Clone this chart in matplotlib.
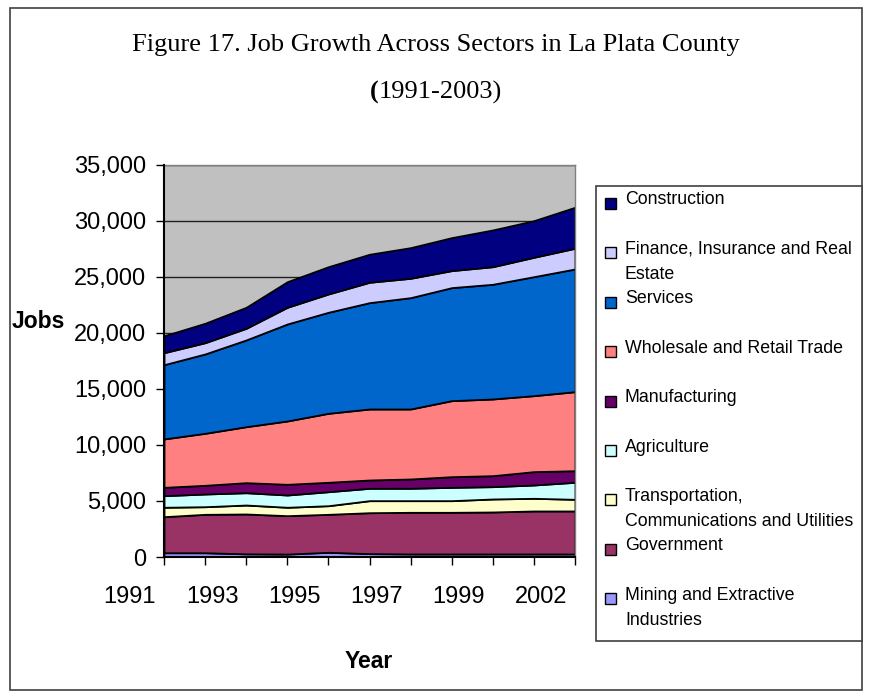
import numpy as np
import matplotlib.pyplot as plt
from matplotlib.patches import Rectangle

# categorias (anios) del eje x
years = ['1991', '1992', '1993', '1994', '1995', '1996', '1997', '1998',
         '1999', '2000', '2002']
tick_years = ['1991', '1993', '1995', '1997', '1999', '2002']

# empleos por sector (de abajo hacia arriba en la pila)
mining = [380, 380, 280, 260, 420, 300, 270, 270, 270, 270, 270]
government = [3220, 3430, 3560, 3430, 3390, 3655, 3720, 3720, 3750, 3840, 3840]
transportation = [840, 680, 800, 750, 770, 1075, 1040, 1040, 1160, 1130, 1040]
agriculture = [1035, 1135, 1100, 1095, 1250, 1105, 1105, 1190, 1100, 1190, 1520]
manufacturing = [745, 775, 895, 955, 840, 740, 830, 950, 980, 1190, 1035]
wholesale = [4320, 4645, 5000, 5655, 6160, 6340, 6250, 6790, 6850, 6785, 7055]
services = [6630, 7085, 7745, 8660, 9020, 9495, 9940, 10090, 10240, 10625, 10955]
finance = [1070, 1005, 1040, 1490, 1635, 1820, 1730, 1520, 1570, 1730, 1850]
construction = [1510, 1735, 1875, 2285, 2435, 2500, 2735, 2945, 3280, 3270, 3660]

labels = ['Mining and Extractive\nIndustries', 'Government',
          'Transportation,\nCommunications and Utilities', 'Agriculture',
          'Manufacturing', 'Wholesale and Retail Trade', 'Services',
          'Finance, Insurance and Real\nEstate', 'Construction']
colors = ['#9999FF', '#993366', '#FFFFCC', '#CCFFFF', '#660066',
          '#FF8080', '#0066CC', '#CCCCFF', '#000080']
series = [mining, government, transportation, agriculture, manufacturing,
          wholesale, services, finance, construction]

W, H = 873, 698
fig = plt.figure(figsize=(W / 100, H / 100), dpi=100)
sans = 'Liberation Sans'
serif = 'Liberation Serif'

# marco exterior
fig.patches.append(Rectangle((10 / W, 1 - 690 / H), 852 / W, 682 / H,
                             transform=fig.transFigure, fill=False,
                             edgecolor='#404040', linewidth=1.2))

x0, x1, y0, y1 = 164, 575, 165, 557
ax = fig.add_axes([x0 / W, 1 - y1 / H, (x1 - x0) / W, (y1 - y0) / H])
ax.set_facecolor('#C0C0C0')

x = np.arange(len(years))
ax.stackplot(x, *series, colors=colors, edgecolor='black', linewidth=1.3,
             zorder=2)

ax.set_ylim(0, 35000)
ax.set_yticks(np.arange(0, 35001, 5000))
ax.set_yticklabels([f'{v:,}' for v in range(0, 35001, 5000)],
                   fontfamily=sans, fontsize=17)
ax.yaxis.grid(True, color='#202020', linewidth=1.0, zorder=0)
ax.set_axisbelow(True)

# marcas del eje x en cada categoria, etiquetas cada dos
ax.set_xticks(x)
ax.set_xticklabels([''] * len(x))
ax.set_xlim(0, len(years) - 1)
for pos, lab in zip(x[::2], tick_years):
    ax.text(pos - 0.83, -40 / (y1 - y0), lab, transform=ax.get_xaxis_transform(),
            fontfamily=sans, fontsize=17, ha='center', va='center',
            clip_on=False)
ax.tick_params(axis='x', length=6, width=1, direction='out')
ax.tick_params(axis='y', length=6, width=1, pad=7)

for s in ['top', 'right']:
    ax.spines[s].set_color('#808080')
    ax.spines[s].set_linewidth(1)
for s in ['left', 'bottom']:
    ax.spines[s].set_color('black')
    ax.spines[s].set_linewidth(1.5)
ax.spines['bottom'].set_zorder(5)
ax.spines['left'].set_zorder(5)

# titulos de ejes
fig.text(38 / W, 1 - 322 / H, 'Jobs', fontfamily=sans, fontsize=16.5,
         fontweight='bold', ha='center', va='center')
fig.text(369 / W, 1 - 662 / H, 'Year', fontfamily=sans, fontsize=16.5,
         fontweight='bold', ha='center', va='center')

# titulo
fig.text(436 / W, 1 - 45 / H,
         'Figure 17. Job Growth Across Sectors in La Plata County',
         fontfamily=serif, fontsize=19, ha='center', va='center')
fig.canvas.draw()
r = fig.canvas.get_renderer()
t_par = fig.text(0, 1 - 92 / H, '(', fontfamily=serif, fontsize=19,
                 fontweight='bold', va='center')
t_rest = fig.text(0, 1 - 92 / H, '1991-2003)', fontfamily=serif,
                  fontsize=19, va='center')
w_par = t_par.get_window_extent(r).width
w_rest = t_rest.get_window_extent(r).width
left = 436 - (w_par + w_rest) / 2
t_par.set_x(left / W)
t_rest.set_x((left + w_par) / W)

# leyenda
fig.patches.append(Rectangle((596 / W, 1 - 641 / H), 266 / W, 455 / H,
                             transform=fig.transFigure, facecolor='white',
                             edgecolor='#404040', linewidth=1.2, zorder=3))
ly = 200
for lab, col in zip(labels[::-1], colors[::-1]):
    fig.patches.append(Rectangle((605 / W, 1 - (ly + 9) / H), 11 / W, 11 / H,
                                 transform=fig.transFigure, facecolor=col,
                                 edgecolor='black', linewidth=1, zorder=4))
    for k, line in enumerate(lab.split('\n')):
        fig.text(625 / W, 1 - (ly + 25 * k) / H, line, fontfamily=sans,
                 fontsize=12.8, va='center', ha='left', zorder=5)
    ly += 49.4

fig.savefig('out.png', dpi=100)
